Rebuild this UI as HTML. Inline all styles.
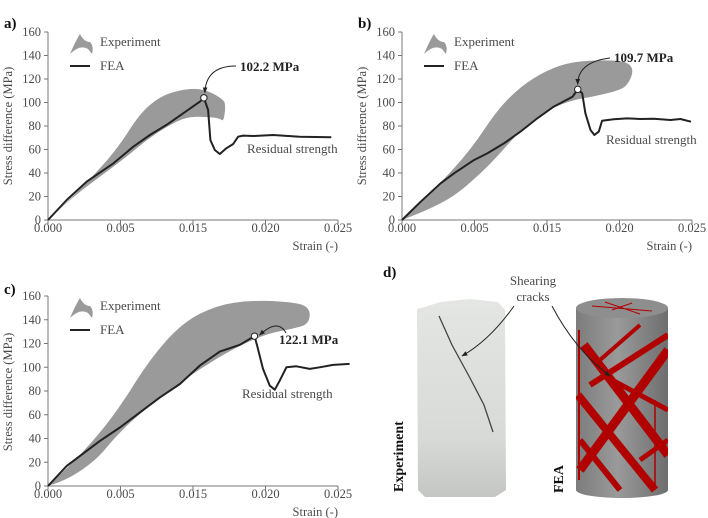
<!DOCTYPE html>
<html><head><meta charset="utf-8"><style>
body{margin:0;background:#fff}
svg{display:block}
text{font-family:"Liberation Serif",serif;fill:#4a4a4a}
.tk{font-size:12.5px}
.pl{font-size:15px;font-weight:bold;fill:#111}
</style></head><body>
<svg id="s" width="708" height="518" viewBox="0 0 708 518">
<defs>
<linearGradient id="cyl" x1="0" x2="1" y1="0" y2="0"><stop offset="0" stop-color="#7c7c7c"/><stop offset="0.45" stop-color="#9a9a9a"/><stop offset="1" stop-color="#6e6e6e"/></linearGradient>
<linearGradient id="rock" x1="0" x2="0" y1="0" y2="1"><stop offset="0" stop-color="#e4e6e4"/><stop offset="0.7" stop-color="#d8dad8"/><stop offset="1" stop-color="#c4c6c4"/></linearGradient>
<clipPath id="cc"><rect x="576" y="308" width="92" height="182"/><ellipse cx="622" cy="490" rx="46" ry="8"/></clipPath>
<marker id="ah" viewBox="0 0 10 10" refX="9" refY="5" markerWidth="6" markerHeight="6" orient="auto"><path d="M0,1 L10,5 L0,9 z" fill="#222"/></marker>
</defs>
<g id="charts"></g>
<g>
<text x="383" y="277" class="pl">d)</text>
<path d="M417,309 L425,307 L440,302 L470,299 L498,302 L505,310 L506,490 L495,497 L425,497 L418,490 Z" fill="url(#rock)"/>
<path d="M439,316 L452,345 L470,378 L484,405 L493,432" stroke="#444" stroke-width="1.3" fill="none"/>
<text transform="translate(403,492) rotate(-90)" style="font-size:14px;font-weight:bold;fill:#111">Experiment</text>
<g>
<rect x="576" y="308" width="92" height="182" fill="url(#cyl)"/>
<ellipse cx="622" cy="490" rx="46" ry="8" fill="url(#cyl)"/>
<g clip-path="url(#cc)" stroke="#b00000" fill="none" stroke-linecap="butt">
<line x1="584" y1="345" x2="668" y2="455" stroke-width="9"/>
<line x1="578" y1="395" x2="655" y2="490" stroke-width="8"/>
<line x1="580" y1="440" x2="620" y2="490" stroke-width="6"/>
<line x1="580" y1="470" x2="668" y2="350" stroke-width="9"/>
<line x1="590" y1="385" x2="668" y2="335" stroke-width="6"/>
<line x1="600" y1="360" x2="640" y2="325" stroke-width="4"/>
<line x1="612" y1="380" x2="668" y2="410" stroke-width="5"/>
<line x1="640" y1="460" x2="668" y2="440" stroke-width="5"/>
<line x1="579" y1="330" x2="579" y2="480" stroke-width="2"/>
<line x1="655" y1="400" x2="655" y2="490" stroke-width="1.5"/>
</g>
<ellipse cx="622" cy="308" rx="46" ry="10" fill="#8e8e8e"/>
<path d="M592,306 L652,311 M605,302 L640,314 M612,310 L632,303" stroke="#b00000" stroke-width="1"/>
</g>
<text transform="translate(563,493) rotate(-90)" style="font-size:14px;font-weight:bold;fill:#111">FEA</text>
<text x="533" y="285" text-anchor="middle" style="font-size:13px">Shearing</text>
<text x="533" y="301" text-anchor="middle" style="font-size:13px">cracks</text>
<path d="M514,306 Q490,340 462,356" stroke="#222" fill="none" stroke-width="1" marker-end="url(#ah)"/>
<path d="M552,306 Q575,350 610,376" stroke="#222" fill="none" stroke-width="1" marker-end="url(#ah)"/>
</g>
</svg>
<script>
const xTickVals=[0,0.005,0.015,0.020,0.025];
const xTickLabels=['0.000','0.005','0.015','0.020','0.025'];
const yTicks=[0,20,40,60,80,100,120,140,160];
// panel a
const feaAx=[0,0.00129,0.00266,0.0045,0.00676,0.00905,0.01135,0.01365,0.01547,0.01575,0.01604,0.0162,0.0165,0.01685,0.0173,0.01777,0.01811,0.01846,0.01915,0.02052,0.02236,0.02454];
const feaAy=[0,17,32.6,48.2,62.4,72.3,80.9,90.8,100.7,104,93.6,68,59.6,56.2,61,64.7,70.9,71.8,71.5,72.3,70.9,70.4];
const bandAUx=[0,0.00243,0.00473,0.00768,0.01043,0.01319,0.01524,0.01616,0.01696,0.01726];
const bandAUy=[0,28.4,59.6,90.8,105,110.6,112,109.2,103.5,99.3];
const bandALx=[0.01712,0.01685,0.01593,0.0141,0.01135,0.00859,0.00584,0.00358,0.00175,0];
const bandALy=[83.7,86.5,87.9,87.9,79.4,68,53.9,36.9,19.9,0];
// panel b
const feaBx=[0,0.00129,0.00266,0.00358,0.00496,0.00676,0.00905,0.01135,0.01365,0.01547,0.01677,0.01712,0.01743,0.01765,0.018,0.01827,0.01857,0.0188,0.0196,0.02052,0.02144,0.02236,0.02351,0.0242,0.02493];
const feaBy=[0,15.6,31.2,39.7,51,56.7,65.2,75.2,86.5,96.5,105,111.2,107.8,90.8,76.6,72.3,75.2,84.5,85.7,86.5,86,86.2,85.1,86,83.7];
const bandBUx=[0,0.00243,0.00473,0.00813,0.01135,0.01501,0.01677,0.0191,0.02052,0.02098,0.02064];
const bandBUy=[0,28.4,59.6,93.6,113.5,127.7,134.8,136.2,134.8,127.7,116.3];
const bandBLx=[0.02006,0.01823,0.01677,0.01501,0.01135,0.00813,0.00584,0.00358,0.00175,0];
const bandBLy=[110.6,105,102.1,93.6,76.6,53.9,39.7,19.9,8.5,0];
// panel c
const feaCx=[0,0.00129,0.00358,0.00496,0.00768,0.01043,0.01319,0.01547,0.01685,0.01823,0.01924,0.01942,0.01983,0.0203,0.02064,0.02098,0.02144,0.02213,0.02305,0.02374,0.02466,0.0258];
const feaCy=[0,16.9,38,49.3,62,74.6,85.9,101.4,113.2,118.9,126.2,118.3,98.6,84.5,81.1,88.7,100,100.8,98.6,100,102,102.8];
const bandCUx=[0,0.00243,0.00473,0.00905,0.01365,0.01662,0.01892,0.02121,0.02305,0.02305];
const bandCUy=[0,28.2,62,107,138,152,156.3,155.5,152,136.6];
const bandCLx=[0.0219,0.02006,0.01777,0.01547,0.01135,0.00676,0.0045,0.00358,0.00243,0.00129,0];
const bandCLy=[132.4,128.2,115.5,98.6,78.9,56.3,39.4,25.4,14.1,5.6,0];

const NS='http://www.w3.org/2000/svg';
const root=document.getElementById('charts');
function mk(tag,attrs,parent){const e=document.createElementNS(NS,tag);for(const k in attrs)e.setAttribute(k,attrs[k]);parent.appendChild(e);return e;}
function smooth(p,closed){
  let d='M'+p[0][0].toFixed(1)+','+p[0][1].toFixed(1);
  for(let i=1;i<p.length;i++){const m=[(p[i-1][0]+p[i][0])/2,(p[i-1][1]+p[i][1])/2];d+=' Q'+p[i-1][0].toFixed(1)+','+p[i-1][1].toFixed(1)+' '+m[0].toFixed(1)+','+m[1].toFixed(1);}
  const l=p[p.length-1];d+=' L'+l[0].toFixed(1)+','+l[1].toFixed(1);
  return d+(closed?'Z':'');
}
function makePanel(cfg){
  const g=mk('g',{},root);
  
  
  const X=v=>{for(let i=0;i<xTickVals.length-1;i++){const a=xTickVals[i],b=xTickVals[i+1];if(v<=b||i===xTickVals.length-2){return cfg.x0+(i+(v-a)/(b-a))*cfg.w/4;}}};
  const Y=v=>cfg.y0-v*cfg.h/160;
  const lbl=mk('text',{x:cfg.x0-44,y:cfg.y0-192,class:'pl'},g);lbl.textContent=cfg.id+')';
  
  
  let pts=[];
  cfg.ux.forEach((v,i)=>pts.push([X(v),Y(cfg.uy[i])]));
  cfg.lx.forEach((v,i)=>pts.push([X(v),Y(cfg.ly[i])]));
  const band=mk('path',{d:smooth(pts,true),fill:'#9a9a9a'},g);
  
  
  const ax=mk('path',{d:`M${cfg.x0},${Y(160)} L${cfg.x0},${cfg.y0} L${cfg.x0+cfg.w},${cfg.y0}`,stroke:'#777',fill:'none','stroke-width':1},g);
  
  
  yTicks.forEach(t=>{
    mk('line',{x1:cfg.x0-4,x2:cfg.x0,y1:Y(t),y2:Y(t),stroke:'#777'},g);
    const tx=mk('text',{x:cfg.x0-7,y:Y(t)+4,'text-anchor':'end',class:'tk'},g);tx.textContent=t;
    
    
  });
  xTickVals.forEach((t,i)=>{
    mk('line',{x1:X(t),x2:X(t),y1:cfg.y0,y2:cfg.y0+4,stroke:'#777'},g);
    const tx=mk('text',{x:X(t),y:cfg.y0+12,'text-anchor':'middle',class:'tk'},g);tx.textContent=xTickLabels[i];
    
    
  });
  const xt=mk('text',{x:cfg.x0+cfg.w,y:cfg.y0+30,'text-anchor':'end',class:'tk'},g);xt.textContent='Strain (-)';
  
  
  const yt=mk('text',{transform:`translate(${cfg.x0-36},${cfg.y0-94}) rotate(-90)`,'text-anchor':'middle',class:'tk'},g);yt.textContent='Stress difference (MPa)';
  
  
  const lb=mk('path',{d:`M${cfg.x0+22},${Y(160)+22} Q${cfg.x0+28},${Y(160)+8} ${cfg.x0+32},${Y(160)+2} Q${cfg.x0+36},${Y(160)+10} ${cfg.x0+42},${Y(160)+10} Q${cfg.x0+46},${Y(160)+14} ${cfg.x0+44},${Y(160)+22} L${cfg.x0+40},${Y(160)+17} Q${cfg.x0+32},${Y(160)+12} ${cfg.x0+22},${Y(160)+22}Z`,fill:'#9a9a9a'},g);
  
  
  const le=mk('text',{x:cfg.x0+52,y:Y(160)+14,style:'font-size:13px'},g);le.textContent='Experiment';
  
  
  const ll=mk('line',{x1:cfg.x0+22,x2:cfg.x0+42,y1:Y(160)+34,y2:Y(160)+34,stroke:'#222','stroke-width':2},g);
  
  
  const lf=mk('text',{x:cfg.x0+52,y:Y(160)+38,style:'font-size:13px'},g);lf.textContent='FEA';
  
  
  const d=cfg.fx.map((v,i)=>(i?'L':'M')+X(v).toFixed(1)+','+Y(cfg.fy[i]).toFixed(1)).join(' ');
  const ln=mk('path',{d:d,stroke:'#222',fill:'none','stroke-width':2,'stroke-linejoin':'round'},g);
  
  
  let pi=0;cfg.fy.forEach((v,i)=>{if(v>cfg.fy[pi])pi=i;});
  const px=X(cfg.fx[pi]),py=Y(cfg.fy[pi]);
  const pk=mk('circle',{cx:px,cy:py,r:3.2,fill:'#fff',stroke:'#222','stroke-width':1},g);
  
  
  const pt=mk('text',{x:cfg.px,y:cfg.py,style:'font-size:13px;font-weight:bold;fill:#222'},g);pt.textContent=cfg.peak;
  
  
  const ar=mk('path',{d:cfg.arrow(px,py),stroke:'#222',fill:'none','stroke-width':1,'marker-end':'url(#ah)'},g);
  
  
  const rs=mk('text',{x:cfg.rx,y:cfg.ry,style:'font-size:13px'},g);rs.textContent='Residual strength';
  
  
}
makePanel({id:'a',x0:48,y0:220,w:290,h:188,ux:bandAUx,uy:bandAUy,lx:bandALx,ly:bandALy,fx:feaAx,fy:feaAy,peak:'102.2 MPa',px:240,py:71,arrow:(x,y)=>`M236,66 Q${x+2},66 ${x+1},${y-5}`,rx:247,ry:153});
makePanel({id:'b',x0:402,y0:220,w:290,h:188,ux:bandBUx,uy:bandBUy,lx:bandBLx,ly:bandBLy,fx:feaBx,fy:feaBy,peak:'109.7 MPa',px:614,py:62,arrow:(x,y)=>`M610,58 Q${x},62 ${x},${y-5}`,rx:606,ry:144});
makePanel({id:'c',x0:48,y0:486,w:290,h:190,ux:bandCUx,uy:bandCUy,lx:bandCLx,ly:bandCLy,fx:feaCx,fy:feaCy,peak:'122.1 MPa',px:279,py:344,arrow:(x,y)=>`M286,333 Q278,318 ${x+5},${y-1}`,rx:242,ry:398});
</script>
</body></html>
